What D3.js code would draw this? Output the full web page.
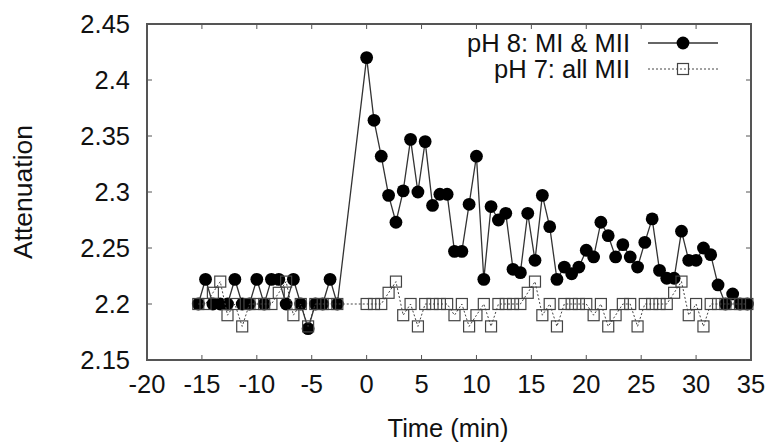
<!DOCTYPE html>
<html>
<head>
<meta charset="utf-8">
<script src="https://cdn.jsdelivr.net/npm/d3@7"></script>
<style>
  body { margin: 0; background: #fff; }
  svg text { font-family: "Liberation Sans", Arial, Helvetica, sans-serif; fill: #111; }
</style>
</head>
<body>
<svg id="chart" width="771" height="443"></svg>
<script>
// pH 8 (MI & MII), filled circles
var timesA = [-15.33, -14.67, -14, -13.33, -12.67, -12, -11.33, -10.67, -10, -9.33,
  -8.67, -8, -7.33, -6.67, -6, -5.33, -4.67, -4, -3.33, -2.67,
  0, 0.67, 1.33, 2, 2.67, 3.33, 4, 4.67, 5.33, 6, 6.67, 7.33, 8, 8.67, 9.33, 10,
  10.67, 11.33, 12, 12.67, 13.33, 14, 14.67, 15.33, 16, 16.67, 17.33, 18, 18.67,
  19.33, 20, 20.67, 21.33, 22, 22.67, 23.33, 24, 24.67, 25.33, 26, 26.67, 27.33,
  28, 28.67, 29.33, 30, 30.67, 31.33, 32, 32.67, 33.33, 34, 34.67];
var valuesA = [2.2, 2.222, 2.2, 2.2, 2.2, 2.222, 2.2, 2.2, 2.222, 2.2,
  2.222, 2.222, 2.2, 2.222, 2.2, 2.178, 2.2, 2.2, 2.222, 2.2,
  2.42, 2.364, 2.332, 2.297, 2.273, 2.301, 2.347, 2.3, 2.345, 2.288, 2.298, 2.298,
  2.247, 2.247, 2.289, 2.332, 2.222, 2.287, 2.275, 2.281, 2.231, 2.228, 2.281,
  2.239, 2.297, 2.269, 2.222, 2.233, 2.227, 2.233, 2.248, 2.242, 2.273, 2.261,
  2.242, 2.253, 2.242, 2.233, 2.255, 2.276, 2.23, 2.223, 2.223, 2.265, 2.239,
  2.239, 2.25, 2.244, 2.217, 2.2, 2.209, 2.2, 2.2];

// pH 7 (all MII), open squares, same sampling times
var timesB = timesA.slice();
var valuesB = [2.2, 2.2, 2.21, 2.22, 2.19, 2.2, 2.18, 2.2, 2.2, 2.2,
  2.2, 2.21, 2.22, 2.19, 2.2, 2.18, 2.2, 2.2, 2.2, 2.2,
  2.2, 2.2, 2.2, 2.21, 2.22, 2.19, 2.2, 2.18, 2.2, 2.2, 2.2, 2.2,
  2.19, 2.2, 2.18, 2.19, 2.2, 2.18, 2.2, 2.2, 2.2, 2.2, 2.21,
  2.22, 2.19, 2.2, 2.18, 2.2, 2.2, 2.2, 2.2, 2.19, 2.2, 2.18,
  2.19, 2.2, 2.2, 2.18, 2.2, 2.2, 2.2, 2.2, 2.21, 2.22, 2.19,
  2.2, 2.18, 2.2, 2.2, 2.2, 2.2, 2.2, 2.2];

var xTicks = [-20, -15, -10, -5, 0, 5, 10, 15, 20, 25, 30, 35];
var yTicks = [2.15, 2.2, 2.25, 2.3, 2.35, 2.4, 2.45];
var seriesLabels = ["pH 8: MI & MII", "pH 7: all MII"];

var svg = d3.select("#chart");

var x = d3.scaleLinear().domain([-20, 35]).range([147, 751]),
    y = d3.scaleLinear().domain([2.15, 2.45]).range([360, 24]);

var frameColor = "#555";

// ticks on all four sides, gnuplot style (pointing inward)
var tickLen = 5;
var ticks = svg.append("g").attr("stroke", frameColor).attr("stroke-width", 1);
xTicks.forEach(function (t) {
  ticks.append("line").attr("x1", x(t)).attr("x2", x(t)).attr("y1", y.range()[0]).attr("y2", y.range()[0] - tickLen);
  ticks.append("line").attr("x1", x(t)).attr("x2", x(t)).attr("y1", y.range()[1]).attr("y2", y.range()[1] + tickLen);
});
yTicks.forEach(function (t) {
  ticks.append("line").attr("x1", x.range()[0]).attr("x2", x.range()[0] + tickLen).attr("y1", y(t)).attr("y2", y(t));
  ticks.append("line").attr("x1", x.range()[1]).attr("x2", x.range()[1] - tickLen).attr("y1", y(t)).attr("y2", y(t));
});

svg.append("rect")
  .attr("x", x.range()[0])
  .attr("y", y.range()[1])
  .attr("width", x.range()[1] - x.range()[0])
  .attr("height", y.range()[0] - y.range()[1])
  .attr("fill", "none")
  .attr("stroke", frameColor)
  .attr("stroke-width", 2);

// tick labels
svg.selectAll("text.ylab")
  .data(yTicks)
  .enter()
  .append("text")
    .attr("class", "ylab")
    .attr("x", 130)
    .attr("y", function (d) { return y(d); })
    .attr("dy", "0.35em")
    .attr("text-anchor", "end")
    .style("font-size", "25.5px")
    .text(function (d) { return d3.format("")(d); });

svg.selectAll("text.xlab")
  .data(xTicks)
  .enter()
  .append("text")
    .attr("class", "xlab")
    .attr("x", function (d) { return x(d); })
    .attr("y", 393)
    .attr("text-anchor", "middle")
    .style("font-size", "25.5px")
    .text(function (d) { return d; });

svg.append("text")
  .attr("transform", "translate(32,192) rotate(-90)")
  .attr("text-anchor", "middle")
  .style("font-size", "26.5px")
  .text("Attenuation");

svg.append("text")
  .attr("x", 448)
  .attr("y", 437)
  .attr("text-anchor", "middle")
  .style("font-size", "25.5px")
  .text("Time (min)");

var dataA = timesA.map(function (t, i) { return [t, valuesA[i]]; });
var dataB = timesB.map(function (t, i) { return [t, valuesB[i]]; });

var line = d3.line()
  .x(function (d) { return x(d[0]); })
  .y(function (d) { return y(d[1]); });

// series A: solid line + filled circles
svg.append("path")
  .attr("d", line(dataA))
  .attr("fill", "none")
  .attr("stroke", "#333")
  .attr("stroke-width", 1.3);

var rad = 6.4;
svg.selectAll("circle.a")
  .data(dataA)
  .enter()
  .append("circle")
    .attr("class", "a")
    .attr("cx", function (d) { return x(d[0]); })
    .attr("cy", function (d) { return y(d[1]); })
    .attr("r", rad)
    .attr("fill", "#000");

// series B: dotted line + open squares
svg.append("path")
  .attr("d", line(dataB))
  .attr("fill", "none")
  .attr("stroke", "#444")
  .attr("stroke-width", 1)
  .attr("stroke-dasharray", "2,2");

var sq = 11;
svg.selectAll("rect.b")
  .data(dataB)
  .enter()
  .append("rect")
    .attr("class", "b")
    .attr("x", function (d) { return x(d[0]) - sq / 2; })
    .attr("y", function (d) { return y(d[1]) - sq / 2; })
    .attr("width", sq)
    .attr("height", sq)
    .attr("fill", "none")
    .attr("stroke", "#444")
    .attr("stroke-width", 1.2);

// legend
var legend = svg.append("g");
var rows = [43, 69];
seriesLabels.forEach(function (s, i) {
  legend.append("text")
    .attr("x", 630)
    .attr("y", rows[i])
    .attr("dy", "0.35em")
    .attr("text-anchor", "end")
    .style("font-size", "25.5px")
    .text(s);
  legend.append("line")
    .attr("x1", 648).attr("x2", 718)
    .attr("y1", rows[i]).attr("y2", rows[i])
    .attr("stroke", i ? "#444" : "#333")
    .attr("stroke-width", i ? 1 : 1.3)
    .attr("stroke-dasharray", i ? "2,2" : null);
  if (i === 0) {
    legend.append("circle").attr("cx", 683).attr("cy", rows[i]).attr("r", rad).attr("fill", "#000");
  } else {
    legend.append("rect")
      .attr("x", 683 - sq / 2).attr("y", rows[i] - sq / 2)
      .attr("width", sq).attr("height", sq)
      .attr("fill", "none").attr("stroke", "#444").attr("stroke-width", 1.2);
  }
});
</script>
</body>
</html>
